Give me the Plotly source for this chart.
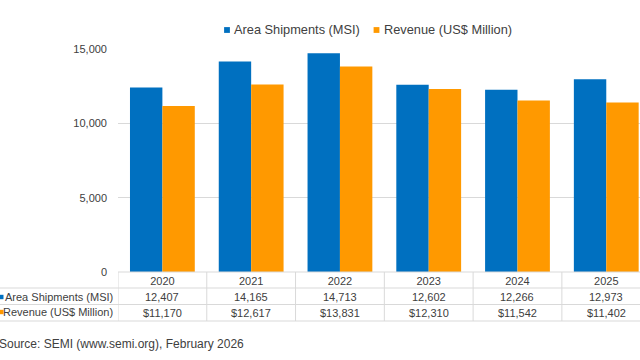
import plotly.graph_objects as go

years = ["2020", "2021", "2022", "2023", "2024", "2025"]
area_shipments = [12407, 14165, 14713, 12602, 12266, 12973]
revenue = [11170, 12617, 13831, 12310, 11542, 11402]
area_labels = ["12,407", "14,165", "14,713", "12,602", "12,266", "12,973"]
revenue_labels = ["$11,170", "$12,617", "$13,831", "$12,310", "$11,542", "$11,402"]
series_names = ["Area Shipments (MSI)", "Revenue (US$ Million)"]
source_text = "Source: SEMI (www.semi.org), February 2026"

BLUE = "#0070C0"
ORANGE = "#FF9900"
TEXT = "#404040"
GRID = "#D9D9D9"
FONT = "Liberation Sans, Arial, sans-serif"

W, H = 640, 360
L, R, T, B = 118, 0, 49, 88
plot_h = H - T - B
plot_w = W - L - R


def py(p):
    return (H - B - p) / plot_h


def px(p):
    return (p - L) / plot_w


fig = go.Figure()
fig.add_trace(go.Bar(x=years, y=area_shipments, name=series_names[0],
                     marker=dict(color=BLUE, line=dict(width=0)),
                     showlegend=False))
fig.add_trace(go.Bar(x=years, y=revenue, name=series_names[1],
                     marker=dict(color=ORANGE, line=dict(width=0)),
                     showlegend=False))

shapes = []
# horizontal table lines
for p in [288, 304.5, 321]:
    shapes.append(dict(type="line", xref="paper", yref="paper",
                       x0=px(0), x1=px(W), y0=py(p), y1=py(p),
                       line=dict(color=GRID, width=1)))
# top line of table (axis line)
shapes.append(dict(type="line", xref="paper", yref="paper",
                   x0=0, x1=1, y0=0, y1=0, line=dict(color=GRID, width=1)))
# vertical table lines at category boundaries
for i in range(len(years) + 1):
    shapes.append(dict(type="line", xref="x", yref="paper",
                       x0=i - 0.5, x1=i - 0.5, y0=0, y1=py(321),
                       line=dict(color=GRID, width=1)))
# legend keys in the table
for p, c in [(297, BLUE), (312, ORANGE)]:
    shapes.append(dict(type="rect", xref="paper", yref="paper",
                       x0=px(0), x1=px(3.5), y0=py(p + 2.2), y1=py(p - 2.2),
                       fillcolor=c, line=dict(width=0)))
# legend keys at top
for cx, c in [(227, BLUE), (376.5, ORANGE)]:
    shapes.append(dict(type="rect", xref="paper", yref="paper",
                       x0=px(cx - 2.9), x1=px(cx + 2.9), y0=py(30 + 2.9), y1=py(30 - 2.9),
                       fillcolor=c, line=dict(width=0)))

annotations = []
for i in range(len(years)):
    annotations.append(dict(x=i, xref="x", y=py(297), yref="paper",
                            text=area_labels[i], showarrow=False,
                            xanchor="center", yanchor="middle",
                            font=dict(size=11, color=TEXT, family=FONT)))
    annotations.append(dict(x=i, xref="x", y=py(312.5), yref="paper",
                            text=revenue_labels[i], showarrow=False,
                            xanchor="center", yanchor="middle",
                            font=dict(size=11, color=TEXT, family=FONT)))
for p, name in [(297, series_names[0]), (312, series_names[1])]:
    annotations.append(dict(x=px(115), xref="paper", y=py(p), yref="paper",
                            text=name, showarrow=False, xanchor="right",
                            yanchor="middle",
                            font=dict(size=11, color=TEXT, family=FONT)))
# legend texts
for lx, name in [(231.5, series_names[0]), (382, series_names[1])]:
    annotations.append(dict(x=px(lx), xref="paper", y=py(30), yref="paper",
                            text=name, showarrow=False, xanchor="left",
                            yanchor="middle",
                            font=dict(size=12.8, color=TEXT, family=FONT)))
annotations.append(dict(x=px(-3), xref="paper", y=py(344), yref="paper",
                        text=source_text, showarrow=False, xanchor="left",
                        yanchor="middle",
                        font=dict(size=12, color=TEXT, family=FONT)))

fig.update_layout(
    width=W, height=H,
    margin=dict(l=L, r=R, t=T, b=B, autoexpand=False),
    paper_bgcolor="white", plot_bgcolor="white",
    barmode="group", bargap=0.27, bargroupgap=0,
    font=dict(family=FONT, color=TEXT, size=11),
    showlegend=False,
    shapes=shapes,
    annotations=annotations,
    xaxis=dict(type="category", range=[-0.5, 5.38], showgrid=False,
               showline=False, ticks="", tickfont=dict(size=11, color=TEXT),
               ticklabelstandoff=1, fixedrange=True),
    yaxis=dict(range=[0, 15000], tickvals=[0, 5000, 10000, 15000],
               ticktext=["0", "5,000", "10,000", "15,000"],
               showgrid=True, gridcolor=GRID, gridwidth=1,
               zeroline=False, showline=False, ticks="",
               ticklabelstandoff=10,
               tickfont=dict(size=11, color=TEXT), fixedrange=True),
)

fig.write_html(
    "out.html",
    config={"displayModeBar": False},
    post_script="document.body.style.margin='0';document.body.style.overflow='hidden';",
)
